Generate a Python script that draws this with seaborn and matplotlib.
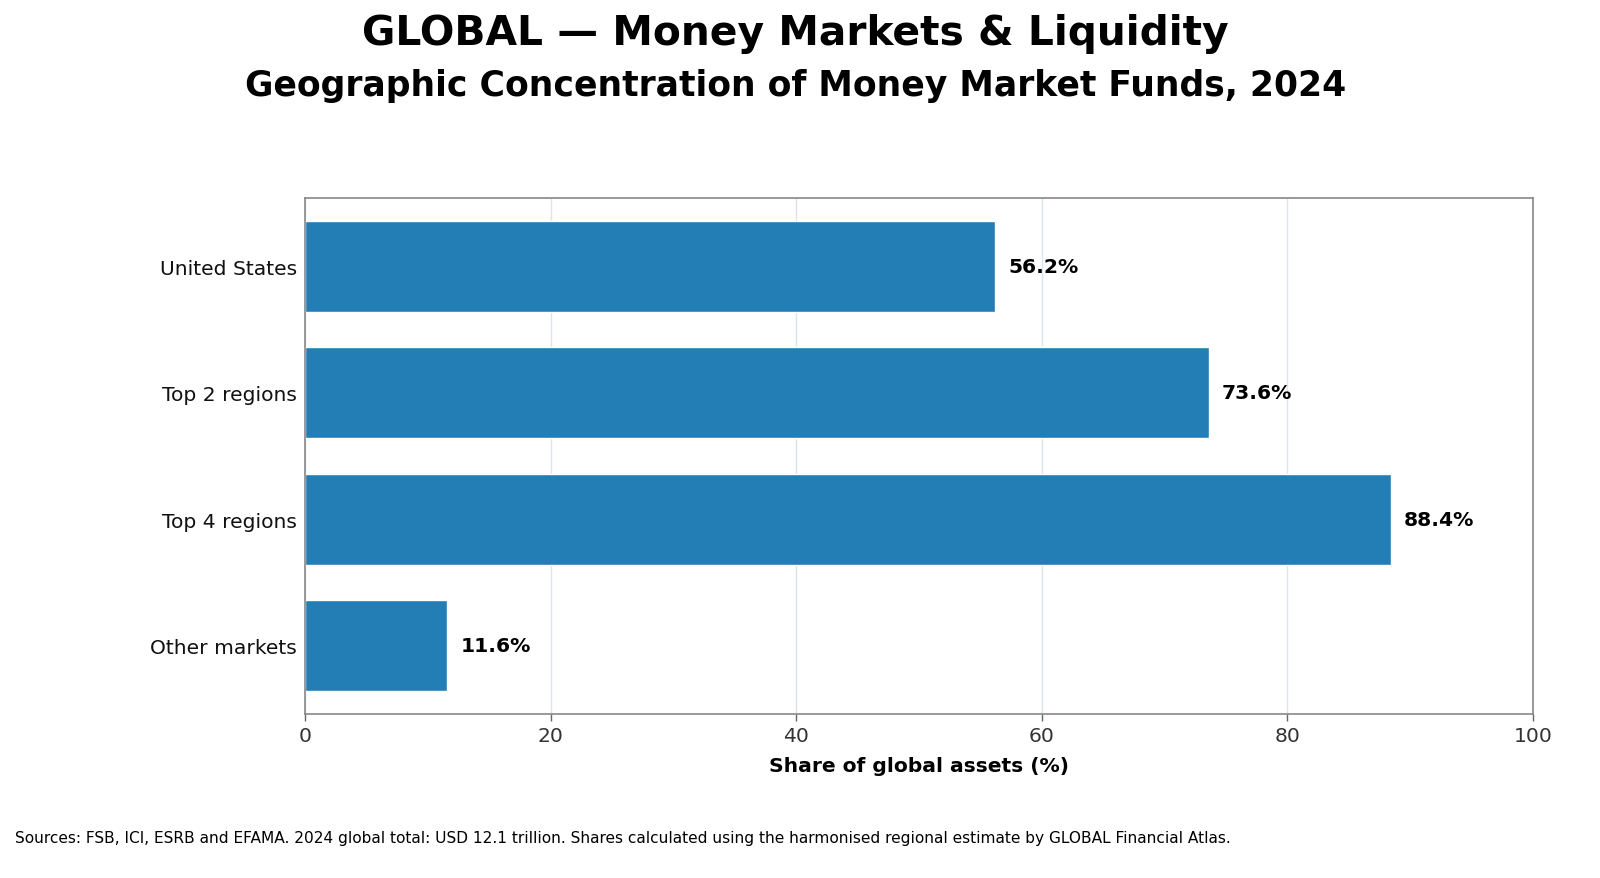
import matplotlib
matplotlib.use("Agg")
import matplotlib.pyplot as plt
import seaborn as sns
import pandas as pd

sns.set_theme(style="white")
plt.rcParams['font.family'] = ['DejaVu Sans']
plt.rcParams['text.color'] = 'black'
plt.rcParams['axes.labelcolor'] = 'black'

# data
categories = ["United States", "Top 2 regions", "Top 4 regions", "Other markets"]
shares = [56.2, 73.6, 88.4, 11.6]

title = "GLOBAL \u2014 Money Markets & Liquidity"
subtitle = "Geographic Concentration of Money Market Funds, 2024"
xlabel = "Share of global assets (%)"
source = ("Sources: FSB, ICI, ESRB and EFAMA. 2024 global total: USD 12.1 trillion. "
          "Shares calculated using the harmonised regional estimate by GLOBAL Financial Atlas.")

df = pd.DataFrame({"category": categories, "share": shares})

fig = plt.figure(figsize=(16, 8.79), dpi=100)
ax = fig.add_axes([305 / 1600, 1 - 715 / 879, (1533 - 305) / 1600, (715 - 199) / 879])

sns.barplot(data=df, y="category", x="share", orient="h", color="#247EB6",
            saturation=1, width=0.72, ax=ax)

for i, v in enumerate(shares):
    ax.text(v + 1.05, i, f"{v:.1f}%", va="center", ha="left",
            fontsize=14.6, fontweight="bold", color="black")

ax.set_xlim(0, 100)
ax.set_ylim(3.54, -0.54)
ax.set_xticks([0, 20, 40, 60, 80, 100])
ax.xaxis.grid(True, color="#dde3ea", linewidth=1)
ax.set_axisbelow(True)
ax.set_ylabel("")
ax.set_xlabel(xlabel, fontsize=14.6, fontweight="bold", labelpad=8)
ax.tick_params(axis="x", labelsize=14.6, labelcolor="#333333", bottom=True,
               length=5, color="#666666", width=1)
ax.tick_params(axis="y", labelsize=14.6, left=False, length=0, labelcolor="#111111", pad=6)
for s in ax.spines.values():
    s.set_color("#888888")
    s.set_linewidth(1.2)

fig.text(0.497, 1 - 34 / 879, title, ha="center", va="center",
         fontsize=29.3, fontweight="bold")
fig.text(0.497, 1 - 86 / 879, subtitle, ha="center", va="center",
         fontsize=24.9, fontweight="bold")
fig.text(15 / 1600, 1 - 839 / 879, source, ha="left", va="center", fontsize=11.1)

fig.savefig("out.png", dpi=100)
